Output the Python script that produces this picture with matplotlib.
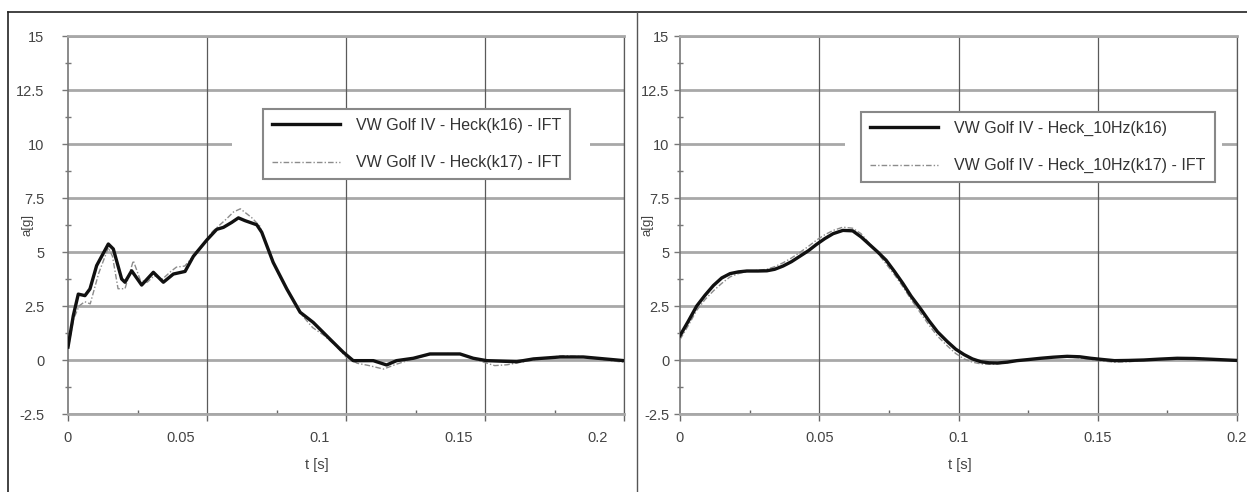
import numpy as np
import matplotlib
matplotlib.use("Agg")
import matplotlib.pyplot as plt
from matplotlib.lines import Line2D
from matplotlib.patches import Rectangle
from matplotlib.transforms import ScaledTranslation

plt.rcParams['font.family'] = ['Liberation Sans', 'DejaVu Sans']

# ---------------- data ----------------
left_t16 = [0, 0.0019, 0.0037, 0.0061, 0.0079, 0.0103, 0.0145, 0.0163, 0.0193, 0.0205, 0.0229,
            0.0265, 0.0307, 0.0343, 0.0379, 0.0421, 0.0451, 0.0499, 0.0535, 0.0559, 0.0589,
            0.0613, 0.0637, 0.0679, 0.0697, 0.0738, 0.0787, 0.0835, 0.0882, 0.0942, 0.099,
            0.1026, 0.1098, 0.1146, 0.1182, 0.1242, 0.1302, 0.141, 0.1458, 0.1506, 0.1614,
            0.1674, 0.177, 0.1854, 0.2]
left_a16 = [0.6, 2.05, 3.05, 2.98, 3.29, 4.37, 5.37, 5.14, 3.75, 3.6, 4.13,
            3.47, 4.06, 3.6, 3.98, 4.1, 4.8, 5.55, 6.05, 6.14, 6.37,
            6.58, 6.45, 6.26, 5.91, 4.52, 3.29, 2.21, 1.74, 0.97, 0.36,
            -0.03, -0.03, -0.23, -0.03, 0.08, 0.28, 0.28, 0.08, -0.03, -0.08,
            0.05, 0.14, 0.14, -0.03]

left_t17 = [0, 0.002, 0.004, 0.006, 0.008, 0.011, 0.0145, 0.016, 0.018, 0.0205, 0.0235, 0.026,
            0.0285, 0.031, 0.034, 0.037, 0.039, 0.042, 0.045, 0.049, 0.052, 0.055, 0.057, 0.0595,
            0.062, 0.066, 0.069, 0.072, 0.076, 0.080, 0.084, 0.088, 0.092, 0.096, 0.100, 0.104,
            0.108, 0.1135, 0.118, 0.124, 0.130, 0.137, 0.142, 0.147, 0.1535, 0.158, 0.163, 0.170,
            0.178, 0.186, 0.193, 0.2]
left_a17 = [0.5, 1.9, 2.5, 2.7, 2.6, 4.0, 5.2, 4.8, 3.3, 3.3, 4.6, 3.7,
            3.6, 3.9, 3.75, 4.1, 4.3, 4.35, 4.8, 5.4, 5.95, 6.3, 6.53, 6.85,
            7.0, 6.6, 6.2, 5.1, 3.9, 3.0, 2.1, 1.5, 1.15, 0.7, 0.15, -0.15,
            -0.25, -0.42, -0.2, 0.05, 0.25, 0.3, 0.25, 0.0, -0.26, -0.22, -0.1, 0.05,
            0.2, 0.15, 0.0, -0.1]

right_t = [0, 0.003, 0.006, 0.009, 0.012, 0.015, 0.018, 0.021, 0.024, 0.028, 0.0312, 0.034,
           0.037, 0.04, 0.043, 0.046, 0.049, 0.052, 0.055, 0.0585, 0.062, 0.065, 0.068, 0.071,
           0.074, 0.077, 0.080, 0.083, 0.0865, 0.0895, 0.0925, 0.096, 0.099, 0.102, 0.105, 0.108,
           0.111, 0.114, 0.1175, 0.121, 0.125, 0.1295, 0.134, 0.139, 0.1435, 0.1475, 0.152, 0.156,
           0.161, 0.1665, 0.172, 0.1785, 0.1845, 0.19, 0.195, 0.2]
right_a16 = [1.13, 1.8, 2.5, 3.0, 3.45, 3.8, 4.0, 4.08, 4.12, 4.12, 4.13, 4.2,
             4.35, 4.55, 4.8, 5.05, 5.35, 5.62, 5.85, 6.0, 5.98, 5.7, 5.35, 5.0,
             4.62, 4.1, 3.55, 2.95, 2.35, 1.8, 1.3, 0.85, 0.5, 0.25, 0.05, -0.08,
             -0.13, -0.14, -0.1, -0.03, 0.02, 0.08, 0.13, 0.17, 0.15, 0.08, 0.02, -0.03,
             -0.02, 0.0, 0.04, 0.08, 0.07, 0.04, 0.01, -0.02]
right_a17 = [0.95, 1.6, 2.3, 2.8, 3.2, 3.55, 3.85, 4.0, 4.1, 4.15, 4.2, 4.32,
             4.5, 4.72, 4.98, 5.25, 5.55, 5.8, 6.0, 6.15, 6.1, 5.85, 5.4, 4.95,
             4.45, 3.95, 3.4, 2.8, 2.15, 1.6, 1.1, 0.65, 0.3, 0.05, -0.1, -0.18,
             -0.2, -0.18, -0.12, -0.05, 0.02, 0.08, 0.12, 0.14, 0.1, 0.02, -0.05, -0.1,
             -0.08, -0.03, 0.03, 0.08, 0.1, 0.05, 0.0, -0.04]

left_labels = ["VW Golf IV - Heck(k16) - IFT", "VW Golf IV - Heck(k17) - IFT"]
right_labels = ["VW Golf IV - Heck_10Hz(k16)", "VW Golf IV - Heck_10Hz(k17) - IFT"]

x_ticks = [0, 0.05, 0.1, 0.15, 0.2]
x_ticklabels = ["0", "0.05", "0.1", "0.15", "0.2"]
y_ticks = [-2.5, 0, 2.5, 5, 7.5, 10, 12.5, 15]
y_ticklabels = ["-2.5", "0", "2.5", "5", "7.5", "10", "12.5", "15"]
xlabel = "t [s]"
ylabel = "a[g]"

# ---------------- figure ----------------
W, H = 1247, 492
fig = plt.figure(figsize=(W / 100, H / 100), dpi=100)
fig.patch.set_facecolor('white')

def fx(px):
    return px / W

def fy(py):
    return 1 - py / H

ax_l = fig.add_axes([fx(68), fy(414), fx(624) - fx(68), fy(36) - fy(414)])
ax_r = fig.add_axes([fx(680), fy(414), fx(1237) - fx(680), fy(36) - fy(414)])

hgrid_c = '#a8a8a8'
vgrid_c = '#5a5a5a'
text_c = '#444444'
FS_TICK = 10.5
FS_LEG = 11.5


def style(ax, ypad, box_px, ax_px):
    ax.set_xlim(0, 0.2)
    ax.set_ylim(-2.5, 15)
    ax.set_xticks(x_ticks)
    ax.set_xticklabels(x_ticklabels)
    ax.set_yticks(y_ticks)
    ax.set_yticklabels(y_ticklabels)
    ax.set_xticks([0.025, 0.075, 0.125, 0.175], minor=True)
    ax.set_yticks([-1.25, 1.25, 3.75, 6.25, 8.75, 11.25, 13.75], minor=True)
    for y in y_ticks:
        ax.axhline(y, color=hgrid_c, lw=2.0, zorder=0.5)
    for x in x_ticks[1:]:
        ax.axvline(x, color=vgrid_c, lw=0.9, zorder=0.6)
    for s in ['top', 'bottom']:
        ax.spines[s].set_color(hgrid_c)
        ax.spines[s].set_linewidth(2.0)
    ax.spines['right'].set_color(vgrid_c)
    ax.spines['right'].set_linewidth(0.9)
    ax.spines['left'].set_color('#777777')
    ax.spines['left'].set_linewidth(1.2)
    ax.tick_params(axis='y', which='major', direction='out', length=4, width=1,
                   color='#777777', labelsize=FS_TICK, labelcolor=text_c, pad=ypad)
    ax.tick_params(axis='y', which='minor', direction='inout', length=4, width=1,
                   color='#777777')
    ax.tick_params(axis='x', which='major', direction='out', length=5, width=1,
                   color='#666666', labelsize=FS_TICK, labelcolor=text_c, pad=7.5)
    ax.tick_params(axis='x', which='minor', direction='in', length=3, width=1,
                   color='#666666')
    ax.set_xlabel(xlabel, fontsize=10.5, color=text_c)
    ax.set_ylabel(ylabel, fontsize=9.5, color=text_c)
    # white area hiding part of the 10-gridline around the legend
    a0, a1 = ax_px
    x0, x1 = box_px
    ax.add_patch(Rectangle(((x0 - a0) / (a1 - a0), (10 - 0.4 + 2.5) / 17.5),
                           (x1 - x0) / (a1 - a0), 0.8 / 17.5,
                           transform=ax.transAxes, facecolor='white', edgecolor='none', zorder=0.7))


def legend(ax, anchor):
    leg = ax.legend(loc='upper left', bbox_to_anchor=anchor,
                    borderaxespad=0, fontsize=FS_LEG, frameon=True, fancybox=False,
                    handlelength=4.25, handletextpad=1.05, labelspacing=1.4,
                    borderpad=0.55, framealpha=1)
    leg.get_frame().set_edgecolor('#888888')
    leg.get_frame().set_linewidth(1.5)
    for t in leg.get_texts():
        t.set_color('#333333')
    return leg


# left panel
style(ax_l, 13, (232, 590), (68, 624))
ax_l.plot(left_t16, left_a16, color='#111111', lw=2.4, label=left_labels[0], zorder=3,
          solid_joinstyle='round')
ax_l.plot(left_t17, left_a17, color='#8c8c8c', lw=1.0, ls=(0, (4, 1.5, 1, 1.5)),
          label=left_labels[1], zorder=2)
ax_l.xaxis.set_label_coords((317 - 68) / 556, (414 - 465) / 378)
ax_l.xaxis.label.set_va('center')
ax_l.yaxis.set_label_coords((33 - 68) / 556, 0.5)
legend(ax_l, ((263 - 68) / 556, (414 - 109) / 378))

# right panel
style(ax_r, 3.5, (845, 1222), (680, 1237))
ax_r.plot(right_t, right_a16, color='#111111', lw=2.4, label=right_labels[0], zorder=3,
          solid_joinstyle='round')
ax_r.plot(right_t, right_a17, color='#8c8c8c', lw=1.0, ls=(0, (4, 1.5, 1, 1.5)),
          label=right_labels[1], zorder=2)
ax_r.xaxis.set_label_coords((960 - 680) / 557, (414 - 465) / 378)
ax_r.xaxis.label.set_va('center')
ax_r.yaxis.set_label_coords((653 - 680) / 557, 0.5)
legend(ax_r, ((861 - 680) / 557, (414 - 112) / 378))

# left panel x tick labels appear shifted left in the original
for i, lab in enumerate(ax_l.get_xticklabels()):
    if i > 0:
        lab.set_transform(lab.get_transform() + ScaledTranslation(-26 / 100, 0, fig.dpi_scale_trans))

# outer frame lines
fig.add_artist(Line2D([fx(8), 1.0], [fy(12), fy(12)], color='#222222', lw=1.2))
fig.add_artist(Line2D([fx(8), fx(8)], [0, fy(12)], color='#222222', lw=1.2))
fig.add_artist(Line2D([fx(637), fx(637)], [0, fy(12)], color='#555555', lw=1.0))

fig.savefig('out.png', dpi=100, facecolor='white')
